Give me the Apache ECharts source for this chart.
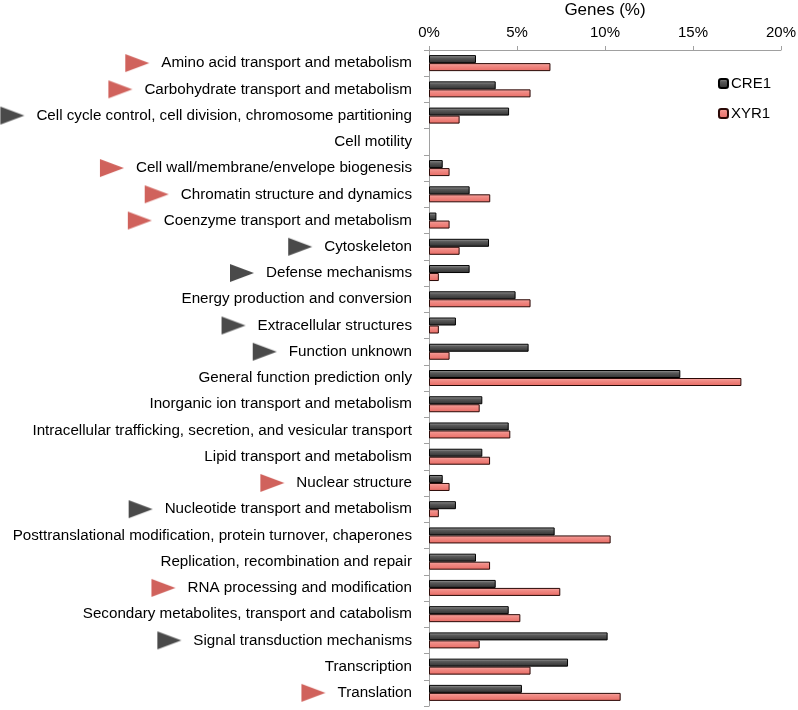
<!DOCTYPE html>
<html><head><meta charset="utf-8">
<script src="https://cdn.jsdelivr.net/npm/echarts@6/dist/echarts.min.js"></script>
<style>html,body{margin:0;padding:0;background:#fff}#c{width:798px;height:710px}</style>
</head><body><div id="c"></div>
<script>
const categories = [
  'Amino acid transport and metabolism',
  'Carbohydrate transport and metabolism',
  'Cell cycle control, cell division, chromosome partitioning',
  'Cell motility',
  'Cell wall/membrane/envelope biogenesis',
  'Chromatin structure and dynamics',
  'Coenzyme transport and metabolism',
  'Cytoskeleton',
  'Defense mechanisms',
  'Energy production and conversion',
  'Extracellular structures',
  'Function unknown',
  'General function prediction only',
  'Inorganic ion transport and metabolism',
  'Intracellular trafficking, secretion, and vesicular transport',
  'Lipid transport and metabolism',
  'Nuclear structure',
  'Nucleotide transport and metabolism',
  'Posttranslational modification, protein turnover, chaperones',
  'Replication, recombination and repair',
  'RNA processing and modification',
  'Secondary metabolites, transport and catabolism',
  'Signal transduction mechanisms',
  'Transcription',
  'Translation'
];
const cre1 = [2.67, 3.79, 4.55, 0, 0.78, 2.31, 0.42, 3.41, 2.31, 4.92, 1.53, 5.66, 14.28, 3.03, 4.53, 3.03, 0.78, 1.53, 7.14, 2.67, 3.79, 4.53, 10.15, 7.90, 5.28];
const xyr1 = [6.90, 5.77, 1.74, 0, 1.17, 3.48, 1.17, 1.74, 0.56, 5.77, 0.56, 1.17, 17.75, 2.88, 4.62, 3.47, 1.17, 0.56, 10.32, 3.47, 7.46, 5.19, 2.88, 5.77, 10.89];
// triangle markers beside labels: 'r' = red (XYR1), 'd' = dark (CRE1), '' = none
const markers = ['r','r','d','','r','r','r','d','d','','d','d','','','','','r','d','','','r','','d','','r'];
const seriesNames = ['CRE1', 'XYR1'];
const axisTitle = 'Genes (%)';

function triCanvas(color) {
  const c = document.createElement('canvas');
  c.width = 24; c.height = 18;
  const g = c.getContext('2d');
  g.fillStyle = color;
  g.beginPath(); g.moveTo(0, 0); g.lineTo(24, 9); g.lineTo(0, 18); g.closePath(); g.fill();
  return c;
}
const redTri = triCanvas('#d0625c');
const darkTri = triCanvas('#4a4a4a');
const nz = arr => arr.map(v => (v === 0 ? null : v));

const chart = echarts.init(document.getElementById('c'), null, {renderer: 'canvas'});
const FONT = 'Liberation Sans, Arial, sans-serif';
chart.setOption({
  animation: false,
  backgroundColor: '#fff',
  textStyle: {fontFamily: FONT},
  grid: {left: 429, right: 17, top: 50, bottom: 4, containLabel: false, outerBoundsMode: 'none'},
  legend: {
    orient: 'vertical', right: 22, top: 71, itemWidth: 9, itemHeight: 9, itemGap: 15,
    textStyle: {fontSize: 15, color: '#000', fontFamily: FONT, padding: [0, 0, 0, -2]},
    data: seriesNames
  },
  xAxis: {
    type: 'value', position: 'top', min: 0, max: 20, interval: 5,
    name: axisTitle, nameLocation: 'middle', nameGap: 31, nameMoveOverlap: false,
    nameTextStyle: {fontSize: 17, color: '#000', fontFamily: FONT},
    axisLine: {show: true, lineStyle: {color: '#a0a0a0'}},
    axisTick: {show: true, length: 4, lineStyle: {color: '#a0a0a0'}},
    axisLabel: {formatter: '{value}%', fontSize: 15, color: '#000', margin: 10, fontFamily: FONT},
    splitLine: {show: false}
  },
  yAxis: {
    type: 'category', inverse: true, data: categories,
    axisLine: {show: true, lineStyle: {color: '#a0a0a0'}},
    axisTick: {show: true, length: 5, lineStyle: {color: '#a0a0a0'}},
    axisLabel: {
      fontSize: 15, color: '#000', margin: 17, fontFamily: FONT,
      formatter: function (v, i) {
        const m = markers[i];
        if (m === 'r') return '{r| }{s| }' + '{t|' + v + '}';
        if (m === 'd') return '{d| }{s| }' + '{t|' + v + '}';
        return '{t|' + v + '}';
      },
      rich: {
        r: {width: 24, height: 18, backgroundColor: {image: redTri}, verticalAlign: 'middle'},
        d: {width: 24, height: 18, backgroundColor: {image: darkTri}, verticalAlign: 'middle'},
        s: {width: 12, verticalAlign: 'middle'},
        t: {fontSize: 15.2, color: '#000', fontFamily: FONT, verticalAlign: 'middle'}
      }
    }
  },
  series: [
    {
      name: seriesNames[0], type: 'bar', data: nz(cre1), barWidth: 8, barGap: '0%',
      itemStyle: {
        color: new echarts.graphic.LinearGradient(0, 0, 0, 1, [
          {offset: 0, color: '#a8a8a8'}, {offset: 0.35, color: '#5a5a5a'}, {offset: 1, color: '#2e2e2e'}
        ]),
        borderColor: '#000', borderWidth: 1
      }
    },
    {
      name: seriesNames[1], type: 'bar', data: nz(xyr1), barWidth: 8,
      itemStyle: {
        color: new echarts.graphic.LinearGradient(0, 0, 0, 1, [
          {offset: 0, color: '#f9aaa6'}, {offset: 0.35, color: '#f08a84'}, {offset: 1, color: '#e86b64'}
        ]),
        borderColor: '#2a0906', borderWidth: 1
      }
    }
  ]
});
</script></body></html>
